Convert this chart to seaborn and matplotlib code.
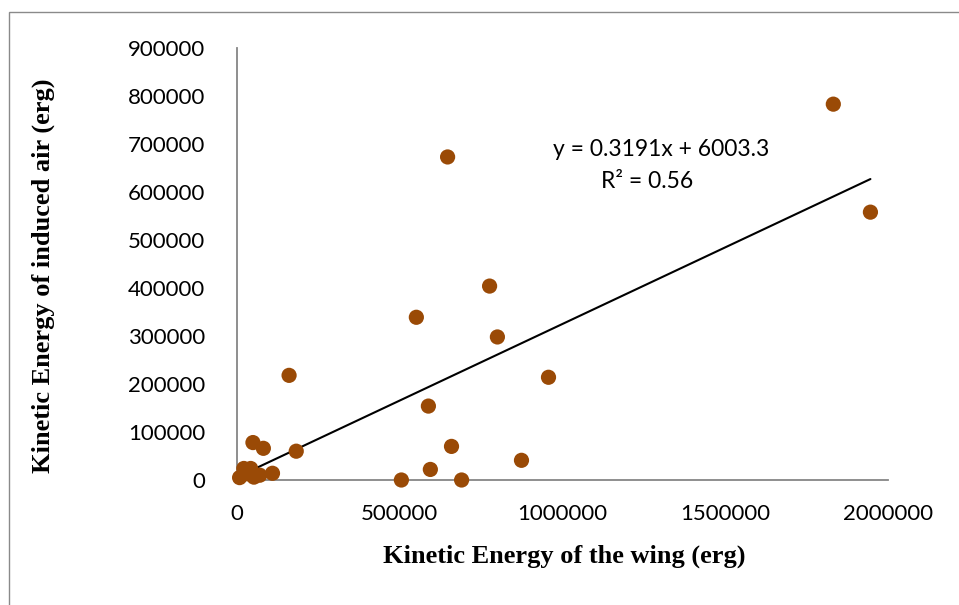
import numpy as np
import pandas as pd
import matplotlib
matplotlib.use("Agg")
import matplotlib.pyplot as plt
import matplotlib.patches as mpatches
import seaborn as sns

# Data
wing_ke = [1832000, 1946000, 647000, 776000, 551000, 800000, 160000, 957000,
           588000, 659000, 874000, 594000, 505000, 690000, 182000, 49000,
           81000, 109000, 8000, 21000, 42000, 52000, 70000, 32000]
air_ke = [783000, 558000, 673000, 404000, 339000, 298000, 218000, 214000,
          154000, 70000, 41000, 22000, 0, 0, 60000, 78000,
          66000, 14000, 5000, 24000, 24000, 6000, 10000, 13000]
slope = 0.3191
intercept = 6003.3
eq_text = "y = 0.3191x + 6003.3"
r2_text = "R² = 0.56"
x_ticks = [0, 500000, 1000000, 1500000, 2000000]
y_ticks = [0, 100000, 200000, 300000, 400000, 500000, 600000, 700000, 800000, 900000]
x_label = "Kinetic Energy of the wing (erg)"
y_label = "Kinetic Energy of induced air (erg)"

sns.set_theme(style="white")
plt.rcParams['font.family'] = ['Lato', 'DejaVu Sans']

df = pd.DataFrame({"wing": wing_ke, "air": air_ke})

fig = plt.figure(figsize=(9.59, 6.05), dpi=100)
ax = fig.add_axes([237/959, 125/605, 651/959, 432/605])

sns.scatterplot(data=df, x="wing", y="air", ax=ax, color="#9A4A06",
                s=120, edgecolor="none", clip_on=False, zorder=3)

xl = np.array([min(wing_ke), max(wing_ke)], dtype=float)
sns.lineplot(x=xl, y=slope * xl + intercept, ax=ax, color="black",
             linewidth=1.5, zorder=2)

ax.set_xlim(0, 2000000)
ax.set_ylim(0, 900000)
ax.set_xticks(x_ticks)
ax.set_yticks(y_ticks)
ax.set_xticklabels([str(v) for v in x_ticks])
ax.set_yticklabels([str(v) for v in y_ticks])
ax.tick_params(axis="both", direction="out", length=7, width=1.3,
               color="#868686", labelsize=16, labelcolor="black")
ax.tick_params(axis="x", pad=10)
ax.tick_params(axis="y", pad=16)
for side in ["top", "right"]:
    ax.spines[side].set_visible(False)
for side in ["left", "bottom"]:
    ax.spines[side].set_color("#868686")
    ax.spines[side].set_linewidth(1.3)

ax.set_xlabel(x_label, fontfamily="Liberation Serif", fontweight="bold",
              fontsize=19, color="black", va="center")
ax.set_ylabel(y_label, fontfamily="Liberation Serif", fontweight="bold",
              fontsize=19, color="black", va="center")
ax.xaxis.set_label_coords((564 - 237) / 651, (480 - 556) / 432)
ax.yaxis.set_label_coords((43 - 237) / 651, (480 - 276) / 432)

ax.text(0.651, 0.766, eq_text, transform=ax.transAxes, ha="center",
        va="center", fontsize=16.5, color="black")
ax.text(0.630, 0.690, r2_text, transform=ax.transAxes, ha="center",
        va="center", fontsize=16.5, color="black")

border = mpatches.Rectangle((9/959, -0.05), 1.2, 1 - 12/605 + 0.05,
                            transform=fig.transFigure, fill=False,
                            edgecolor="#8a8a8a", linewidth=1.0)
fig.patches.append(border)

fig.savefig("out.png", dpi=100, facecolor="white")
